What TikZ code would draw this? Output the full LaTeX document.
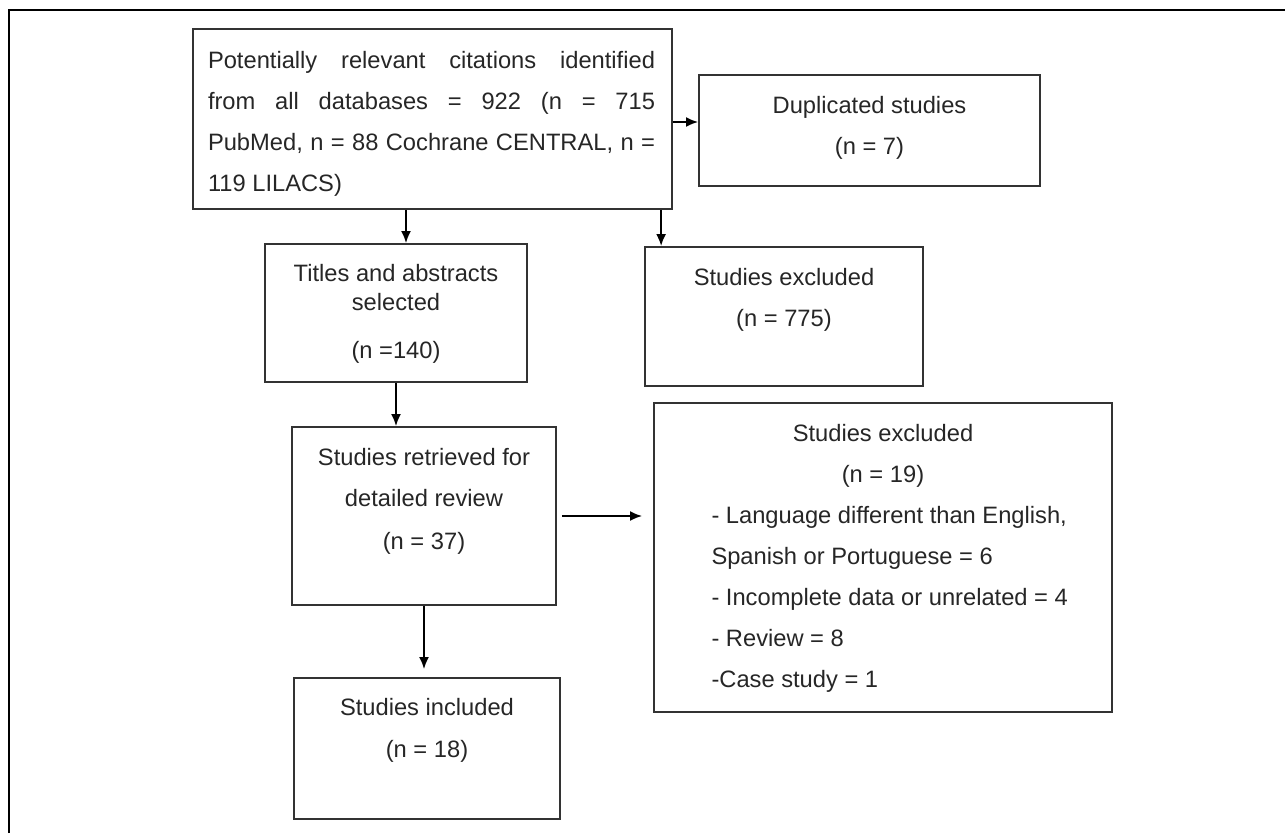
\documentclass[tikz,border=0pt]{standalone}
\usepackage{fontspec}
\setmainfont{Liberation Sans}
\usetikzlibrary{arrows.meta}

\tikzset{
  flowbox/.style={draw=black!80, line width=1.8pt, inner sep=0pt, text=black!85},
  arr/.style={-{Latex[length=12pt,width=10pt]}, line width=2pt}
}

\begin{document}
\begin{tikzpicture}[x=1pt, y=-1pt, font=\fontsize{23.7}{41}\selectfont]
    % page size and the frame round the figure
    \useasboundingbox (0,0) rectangle (1285,833);
    \draw[line width=2.8pt] (9,833) -- (9,10) -- (1285,10);

    % the boxes
    \node[flowbox] (b1) at (432.5,119) {\parbox[c][180pt][t]{479pt}{\leftskip=15pt
        \rule{0pt}{39.5pt}\makebox[447pt][s]{Potentially relevant citations identified}\\
        \makebox[447pt][s]{from all databases = 922 (n = 715}\\
        \makebox[447pt][s]{PubMed, n = 88 Cochrane CENTRAL, n =}\\
        119 LILACS)}};
    \node[flowbox] (dup) at (869.5,130.5) {\parbox[c][111pt][t]{341pt}{\centering
        \rule{0pt}{38.5pt}Duplicated studies\\(n = 7)}};
    \node[flowbox] (titles) at (396,313) {\parbox[c][138pt][t]{262pt}{\centering
        \rule{0pt}{37.5pt}Titles and abstracts\\[-12pt]selected\\[7pt](n =140)}};
    \node[flowbox] (ex775) at (784,316.5) {\parbox[c][139pt][t]{278pt}{\centering
        \rule{0pt}{38.5pt}Studies excluded\\(n = 775)}};
    \node[flowbox] (retrieved) at (424,516) {\parbox[c][178pt][t]{264pt}{\centering
        \rule{0pt}{38.5pt}Studies retrieved for\\detailed review\\[2pt](n = 37)}};
    \node[flowbox] (ex19) at (883,557.5) {\parbox[c][309pt][t]{458pt}{\centering
        \rule{0pt}{38.5pt}Studies excluded\\(n = 19)\par
        \raggedright\leftskip=57.5pt
        - Language different than English,\\
        Spanish or Portuguese = 6\\
        - Incomplete data or unrelated = 4\\
        - Review = 8\\
        -Case study = 1}};
    \node[flowbox] (included) at (427,748.5) {\parbox[c][141pt][t]{266pt}{\centering
        \rule{0pt}{37.5pt}Studies included\\[1pt](n = 18)}};

    % where the arrows meet the boxes
    \coordinate (dupin) at ([yshift=8.5pt]dup.west);
    \coordinate (titin) at ([xshift=10pt]titles.north);
    \coordinate (exin) at ([xshift=17pt]ex775.north west);

    % draw the arrows
    \draw[arr] (b1.east |- dupin) -- (dupin);
    \draw[arr] (b1.south -| titin) -- (titin);
    \draw[arr] (b1.south -| exin) -- (exin);
    \draw[arr] (titles.south) -- (titles.south |- retrieved.north);
    \draw[arr, shorten <=5pt, shorten >=11pt] (retrieved.east) -- (retrieved.east -| ex19.west);
    \draw[arr, shorten >=8pt] (retrieved.south) -- (retrieved.south |- included.north);

\end{tikzpicture}
\end{document}
